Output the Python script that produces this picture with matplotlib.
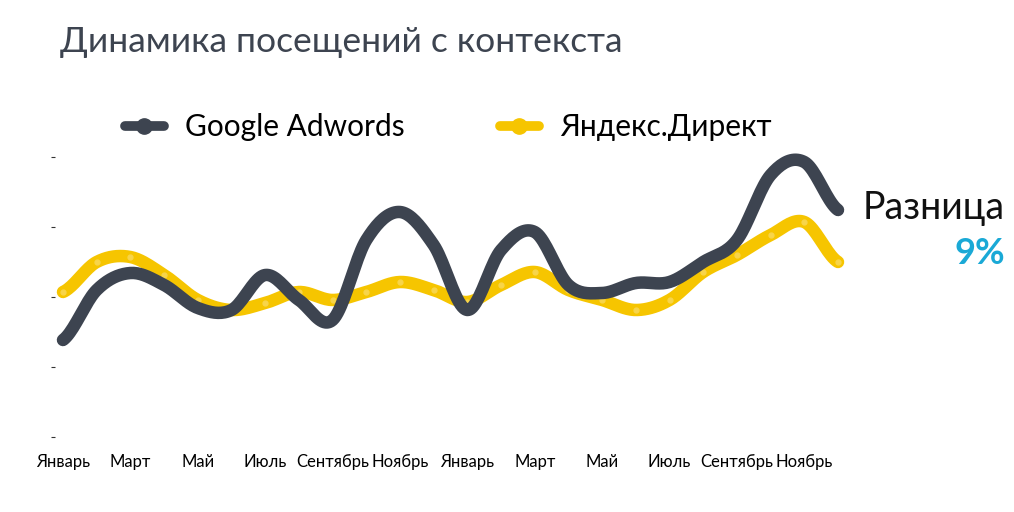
import numpy as np
import matplotlib
matplotlib.use("Agg")
import matplotlib.pyplot as plt

months = ["Январь","Февраль","Март","Апрель","Май","Июнь","Июль","Август","Сентябрь","Октябрь","Ноябрь","Декабрь"]*2
tick_labels = ["Январь","Март","Май","Июль","Сентябрь","Ноябрь"]*2
google_px = [340,290,273,285,308,310,275,300,320,240,212,245,310,250,232,285,293,283,282,262,240,175,162,210]
yandex_px = [292,262,257,275,300,310,303,292,300,292,282,290,302,285,272,290,300,310,300,272,255,235,222,262]
google = [(437-v)/280*100 for v in google_px]
yandex = [(437-v)/280*100 for v in yandex_px]

def smooth(y, n=20):
    y = np.asarray(y, float)
    p = np.concatenate([[y[0]], y, [y[-1]]])
    xs, ys = [], []
    for i in range(len(y)-1):
        p0, p1, p2, p3 = p[i], p[i+1], p[i+2], p[i+3]
        t = np.linspace(0, 1, n, endpoint=False)
        ys.append(0.5*((2*p1)+(-p0+p2)*t+(2*p0-5*p1+4*p2-p3)*t**2+(-p0+3*p1-3*p2+p3)*t**3))
        xs.append(i+t)
    xs.append([len(y)-1]); ys.append([y[-1]])
    return np.concatenate(xs), np.concatenate(ys)

plt.rcParams["font.family"] = "Lato"
fig = plt.figure(figsize=(10.14, 5.12), dpi=100)
W, H = 1014, 512
ax = fig.add_axes([55/W, 1-437/H, (845-55)/W, 280/H])
x_idx = np.arange(24)
ax.set_xlim(-8/33.7, 23 + 7/33.7)
ax.set_ylim(0, 100)
DARK, YEL = "#3d4450", "#f6c500"
sx, sy = smooth(yandex)
ax.plot(sx, sy, color=YEL, lw=9, solid_capstyle="round", clip_on=False, zorder=2)
ax.plot(x_idx, yandex, "o", color="#f8d54a", ms=3.5, clip_on=False, zorder=2.5)
sx, sy = smooth(google)
ax.plot(sx, sy, color=DARK, lw=9, solid_capstyle="round", clip_on=False, zorder=3)
for s in ax.spines.values():
    s.set_visible(False)
ax.set_yticks([0,25,50,75,100])
ax.set_yticklabels([])
ax.tick_params(axis="y", length=3, width=0.8, color="#333")
ax.set_xticks(x_idx[::2])
ax.set_xticklabels(tick_labels, fontsize=12)
ax.tick_params(axis="x", length=0, pad=12)

fig.text(60/W, 1-42/H, "Динамика посещений с контекста", fontsize=25.5, color="#3d4450", va="center")
from matplotlib.lines import Line2D
h1 = Line2D([], [], color=DARK, lw=7, marker="o", ms=11, solid_capstyle="round")
h2 = Line2D([], [], color=YEL, lw=7, marker="o", ms=11, solid_capstyle="round")
fig.legend([h1, h2], ["Google Adwords", "Яндекс.Директ"], loc="center", bbox_to_anchor=(448/W, 1-127/H),
           ncol=2, frameon=False, fontsize=21.5, handlelength=1.3, columnspacing=3.2, handletextpad=0.7)
fig.text(1005/W, 1-208/H, "Разница", fontsize=27, ha="right", va="center", color="#111")
fig.text(1005/W, 1-253/H, "9%", fontsize=26, ha="right", va="center", color="#1aa9d6", fontweight="bold")
fig.savefig("out.png", dpi=100)
